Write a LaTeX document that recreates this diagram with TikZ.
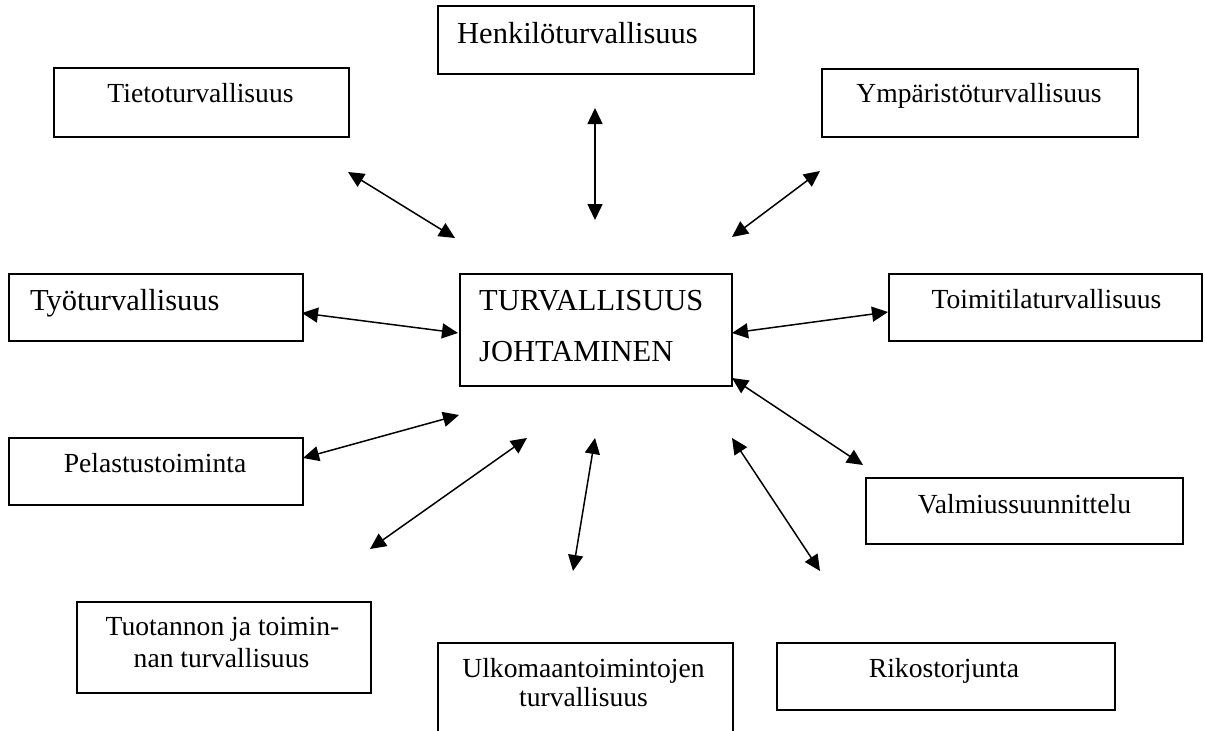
\documentclass[tikz,border=0pt]{standalone}
\usepackage{fontspec}
\setmainfont{Liberation Serif}
\usetikzlibrary{arrows.meta}
\begin{document}
\begin{tikzpicture}[x=1pt,y=-1pt,
  box/.style={draw, line width=1.7pt, inner sep=0pt, anchor=north west},
  lbl/.style={anchor=base, inner sep=0pt, font=\fontsize{27.6}{32}\selectfont},
  big/.style={anchor=base west, inner sep=0pt, font=\fontsize{30.5}{36}\selectfont},
  link/.style={line width=1.5pt, {Triangle[length=16pt,width=15pt]}-{Triangle[length=16pt,width=15pt]}}]
\clip (0,0) rectangle (1205,731);
\fill[white] (0,0) rectangle (1205,731);

% boxes (top-left corner, width x height)
\node[box, minimum width=295pt, minimum height=69pt] (tieto)   at (53,67)  {};
\node[box, minimum width=316pt, minimum height=68pt] (henk)    at (437,5)  {};
\node[box, minimum width=316pt, minimum height=68pt] (ymp)     at (821,68) {};
\node[box, minimum width=294pt, minimum height=67pt] (tyo)     at (8,273)  {};
\node[box, minimum width=272pt, minimum height=112pt] (johto)  at (459,273) {};
\node[box, minimum width=313pt, minimum height=67pt] (toimi)   at (888,273) {};
\node[box, minimum width=294pt, minimum height=67pt] (pelast)  at (8,437)  {};
\node[box, minimum width=317pt, minimum height=66pt] (valmius) at (865,477) {};
\node[box, minimum width=294pt, minimum height=91pt] (tuot)    at (76,601) {};
\node[box, minimum width=295pt, minimum height=110pt] (ulko)   at (437,642) {};
\node[box, minimum width=338pt, minimum height=67pt] (rikos)   at (776,642) {};

% texts
\node[lbl] (tTieto)   at (200.5,102) {Tietoturvallisuus};
\node[big] (tHenk)    at (457,43)    {Henkilöturvallisuus};
\node[lbl] (tYmp)     at (979,102)   {Ympäristöturvallisuus};
\node[big] (tTyo)     at (30,310)    {Työturvallisuus};
\node[big] (tJohto1)  at (479,310)   {TURVALLISUUS};
\node[big] (tJohto2)  at (479,361)   {JOHTAMINEN};
\node[lbl] (tToimi)   at (1046.5,308) {Toimitilaturvallisuus};
\node[lbl] (tPel)     at (155,472)   {Pelastustoiminta};
\node[lbl] (tValm)    at (1024.5,513) {Valmiussuunnittelu};
\node[lbl] (tTuot1)   at (222.5,635) {Tuotannon ja toimin-};
\node[lbl] (tTuot2)   at (221.5,667) {nan turvallisuus};
\node[lbl] (tUlko1)   at (583.5,677) {Ulkomaantoimintojen};
\node[lbl] (tUlko2)   at (583.5,706) {turvallisuus};
\node[lbl] (tRikos)   at (944,677)   {Rikostorjunta};

% arrow end points
\coordinate (a1) at (348,172); \coordinate (b1) at (455,238);
\coordinate (a2) at (595,108); \coordinate (b2) at (595,220);
\coordinate (a3) at (820,171); \coordinate (b3) at (732,237);
\coordinate (a4) at (302,313); \coordinate (b4) at (458,333);
\coordinate (a5) at (888,312); \coordinate (b5) at (732,333);
\coordinate (a6) at (303,458); \coordinate (b6) at (459,415);
\coordinate (a7) at (863,465); \coordinate (b7) at (732,378);
\coordinate (a8) at (370,549); \coordinate (b8) at (527,438);
\coordinate (a9) at (573,571); \coordinate (b9) at (595,438);
\coordinate (a10) at (820,571); \coordinate (b10) at (732,438);

\foreach \i in {1,...,10} \draw[link] (a\i) -- (b\i);
\end{tikzpicture}
\end{document}
